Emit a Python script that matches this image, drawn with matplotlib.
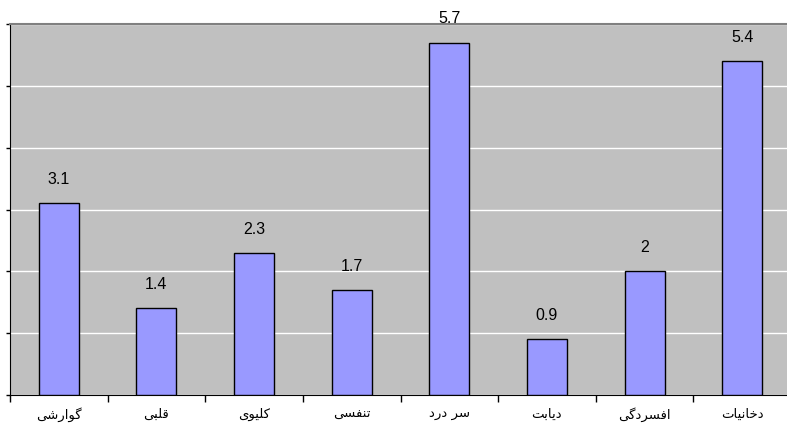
import matplotlib
matplotlib.use("Agg")
import matplotlib.pyplot as plt
from matplotlib.ticker import FixedLocator, MultipleLocator

categories = ["گوارشی", "قلبی", "کلیوی", "تنفسی", "سر درد", "دیابت", "افسردگی", "دخانیات"]
values = [3.1, 1.4, 2.3, 1.7, 5.7, 0.9, 2.0, 5.4]
value_labels = ["3.1", "1.4", "2.3", "1.7", "5.7", "0.9", "2", "5.4"]

# Contextual forms: isolated, final, initial, medial (None -> non-joining to next)
FORMS = {
    "ا": ("\uFE8D", "\uFE8E", None, None),
    "ب": ("\uFE8F", "\uFE90", "\uFE91", "\uFE92"),
    "ت": ("\uFE95", "\uFE96", "\uFE97", "\uFE98"),
    "خ": ("\uFEA5", "\uFEA6", "\uFEA7", "\uFEA8"),
    "د": ("\uFEA9", "\uFEAA", None, None),
    "ر": ("\uFEAD", "\uFEAE", None, None),
    "س": ("\uFEB1", "\uFEB2", "\uFEB3", "\uFEB4"),
    "ش": ("\uFEB5", "\uFEB6", "\uFEB7", "\uFEB8"),
    "ف": ("\uFED1", "\uFED2", "\uFED3", "\uFED4"),
    "ق": ("\uFED5", "\uFED6", "\uFED7", "\uFED8"),
    "ل": ("\uFEDD", "\uFEDE", "\uFEDF", "\uFEE0"),
    "ن": ("\uFEE5", "\uFEE6", "\uFEE7", "\uFEE8"),
    "و": ("\uFEED", "\uFEEE", None, None),
    "ی": ("\uFBFC", "\uFBFD", "\uFBFE", "\uFBFF"),
    "ک": ("\uFB8E", "\uFB8F", "\uFB90", "\uFB91"),
    "گ": ("\uFB92", "\uFB93", "\uFB94", "\uFB95"),
}


def shape(text):
    out = []
    n = len(text)
    for i, ch in enumerate(text):
        if ch not in FORMS:
            out.append(ch)
            continue
        prev = text[i - 1] if i > 0 else None
        nxt = text[i + 1] if i < n - 1 else None
        joins_prev = prev in FORMS and FORMS[prev][2] is not None
        joins_next = nxt in FORMS and FORMS[ch][2] is not None
        iso, fin, ini, med = FORMS[ch]
        if joins_prev and joins_next:
            out.append(med)
        elif joins_prev:
            out.append(fin)
        elif joins_next:
            out.append(ini)
        else:
            out.append(iso)
    return "".join(reversed(out))


fig = plt.figure(figsize=(7.87, 4.25), dpi=100)
ax = fig.add_axes([10 / 787, 30 / 425, 781 / 787, 371 / 425])
ax.set_facecolor("#C0C0C0")

x = list(range(len(categories)))
bars = ax.bar(x, values, width=0.41, color="#9999FF", edgecolor="black", linewidth=1.0, zorder=3)

ax.set_xlim(-0.5, len(categories) - 0.5)
ax.set_ylim(0, 6)
ax.yaxis.set_major_locator(MultipleLocator(1))
ax.yaxis.grid(True, color="white", linewidth=1.0, zorder=1)
ax.set_yticklabels([])
ax.tick_params(axis="y", direction="out", length=3, width=1, colors="black")

ax.xaxis.set_major_locator(FixedLocator(x))
ax.xaxis.set_minor_locator(FixedLocator([i - 0.5 for i in range(len(categories) + 1)]))
ax.set_xticklabels([shape(c) for c in categories], family=["DejaVu Sans"], fontsize=9.5)
ax.tick_params(axis="x", which="major", length=0, pad=9)
ax.tick_params(axis="x", which="minor", direction="out", length=5, width=1, colors="black")

ax.spines["right"].set_visible(False)
ax.spines["top"].set_color("#808080")
ax.spines["top"].set_linewidth(1.5)
ax.spines["left"].set_color("black")
ax.spines["bottom"].set_color("black")

for xi, v, lab in zip(x, values, value_labels):
    ax.annotate(lab, (xi, v), xytext=(0, 17), textcoords="offset points",
                ha="center", va="center", fontsize=11.5, family=["Liberation Sans", "DejaVu Sans"])

fig.savefig("out.png", dpi=100, facecolor="white")
